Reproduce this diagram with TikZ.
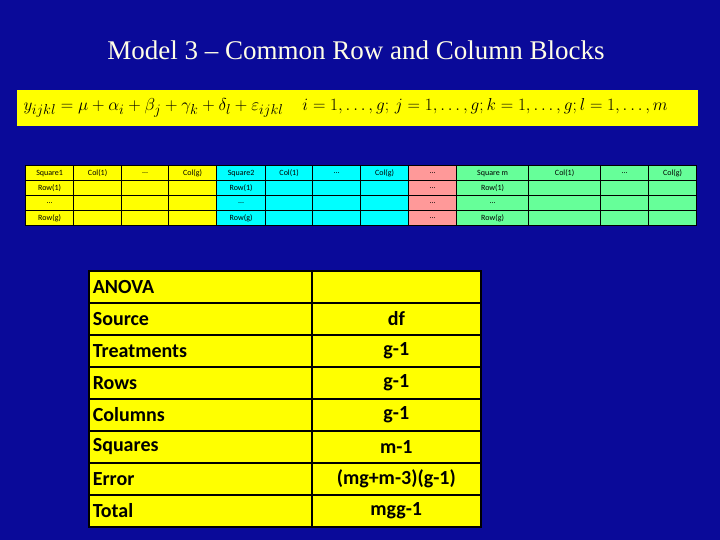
\documentclass[tikz,border=0pt]{standalone}
\usepackage{fontspec}
\setmainfont{Liberation Serif}
\newfontfamily\carl{Carlito}
\definecolor{bg}{HTML}{0A0A99}
\definecolor{yel}{HTML}{FFFF00}
\definecolor{cya}{HTML}{00FFFF}
\definecolor{pnk}{HTML}{FF9999}
\definecolor{grn}{HTML}{66FF99}
\tikzset{cell/.style={draw=black,line width=1.2pt,minimum height=15pt,inner sep=0pt,anchor=north west},
 stxt/.style={font=\carl\fontsize{8}{9}\selectfont},
 acell/.style={draw=black,line width=1.6pt,minimum height=32pt,inner sep=4pt,font=\carl\bfseries\fontsize{20}{22}\selectfont,anchor=north west,fill=yel}}
\begin{document}
\begin{tikzpicture}[x=1pt,y=-1pt]
\fill[bg] (0,0) rectangle (720,540);
\useasboundingbox (0,0) rectangle (720,540);
\node[text=white!90!yellow,font=\fontsize{27}{30}\selectfont] (title) at (356,50) {Model 3 -- Common Row and Column Blocks};
\node[fill=yel,minimum width=681pt,minimum height=36pt,anchor=north west,inner sep=0pt] (eq) at (17,90) {};
\node[anchor=west,font=\fontsize{19}{20}\selectfont] (eqt) at (20,108) {$y_{ijkl}=\mu+\alpha_i+\beta_j+\gamma_k+\delta_l+\varepsilon_{ijkl}\quad i=1,\ldots,g;\,j=1,\ldots,g;k=1,\ldots,g;l=1,\ldots,m$};
% small table
\def\xs{{25,73,121,168,216,265,312,360,408,456,528,600,648,696}}
\foreach \c/\col in {0/yel,1/yel,2/yel,3/yel,4/cya,5/cya,6/cya,7/cya,8/pnk,9/grn,10/grn,11/grn,12/grn}{
 \foreach \r in {0,1,2,3}{
  \pgfmathsetmacro{\xa}{\xs[\c]}\pgfmathsetmacro{\xb}{\xs[\c+1]}
  \node[cell,fill=\col,minimum width={(\xb-\xa)*1pt}] (s\c-\r) at (\xa,{165+15*\r}) {};
 }}
\foreach \c/\t in {0/Square1,1/Col(1),2/\dots,3/Col(g),4/Square2,5/Col(1),6/\dots,7/Col(g),8/\dots,9/Square m,10/Col(1),11/\dots,12/Col(g)}
 \node[stxt] at (s\c-0.center) {\t};
\foreach \c in {0,4,9}{
 \node[stxt] at (s\c-1.center) {Row(1)};
 \node[stxt] at (s\c-2.center) {\dots};
 \node[stxt] at (s\c-3.center) {Row(g)};}
\foreach \r in {1,2,3} \node[stxt] at (s8-\r.center) {\dots};
% ANOVA
\foreach \r/\a/\b in {0/ANOVA/,1/Source/df,2/Treatments/g-1,3/Rows/g-1,4/Columns/g-1,5/Squares/m-1,6/Error/(mg+m-3)(g-1),7/Total/mgg-1}{
 \node[acell,minimum width=223pt,text width=215pt,align=left] (a\r) at (88,{270+32*\r}) {\a};
 \node[acell,minimum width=169pt,text width=161pt,align=center] (b\r) at (311,{270+32*\r}) {\b};
}
\end{tikzpicture}
\end{document}
